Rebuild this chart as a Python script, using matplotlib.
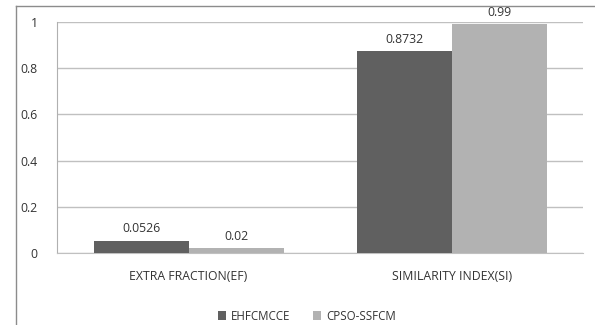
import matplotlib.pyplot as plt
import numpy as np

categories = ['EXTRA FRACTION(EF)', 'SIMILARITY INDEX(SI)']
ehfcmcce = [0.0526, 0.8732]
cpso_ssfcm = [0.02, 0.99]
ehf_labels = ['0.0526', '0.8732']
cpso_labels = ['0.02', '0.99']

plt.rcParams['font.family'] = ['Open Sans', 'DejaVu Sans']

fig = plt.figure(figsize=(5.95, 3.25), dpi=100)
ax = fig.add_axes([0.096, 0.2215, 0.884, 0.7105])

# frame around the whole chart
fig.add_artist(plt.Line2D([16/595, 16/595], [0, 1 - 6/325], color='#8c8c8c', lw=1))
fig.add_artist(plt.Line2D([16/595, 1], [1 - 6/325, 1 - 6/325], color='#8c8c8c', lw=1))

x = np.arange(len(categories))
w = 0.361
b1 = ax.bar(x - w/2, ehfcmcce, w, color='#606060', label='EHFCMCCE', zorder=3)
b2 = ax.bar(x + w/2, cpso_ssfcm, w, color='#b2b2b2', label='CPSO-SSFCM', zorder=3)

for bars, labs in ((b1, ehf_labels), (b2, cpso_labels)):
    for r, t in zip(bars, labs):
        ax.text(r.get_x() + r.get_width()/2, r.get_height() + 0.025, t,
                ha='center', va='bottom', fontsize=8.8, color='#333333')

ax.set_xlim(-0.5, 1.5)
ax.set_ylim(0, 1)
ax.set_yticks([0, 0.2, 0.4, 0.6, 0.8, 1])
ax.set_yticklabels(['0', '0.2', '0.4', '0.6', '0.8', '1'])
ax.set_xticks(x)
ax.set_xticklabels(categories)
ax.tick_params(axis='both', length=0, labelsize=8.8, colors='#333333')
ax.tick_params(axis='y', pad=14)
ax.tick_params(axis='x', pad=12)
ax.yaxis.grid(True, color='#c0c0c0', lw=1, zorder=0)
for s in ['top', 'right']:
    ax.spines[s].set_visible(False)
ax.spines['left'].set_color('#b0b0b0')
ax.spines['bottom'].set_color('#c0c0c0')

fig.legend(loc='center', bbox_to_anchor=(0.516, 1 - 316/325), ncol=2, frameon=False,
           fontsize=8.3, handlelength=0.7, handleheight=0.7, handletextpad=0.4,
           columnspacing=2.0, labelcolor='#333333')

fig.savefig('out.png', dpi=100)
